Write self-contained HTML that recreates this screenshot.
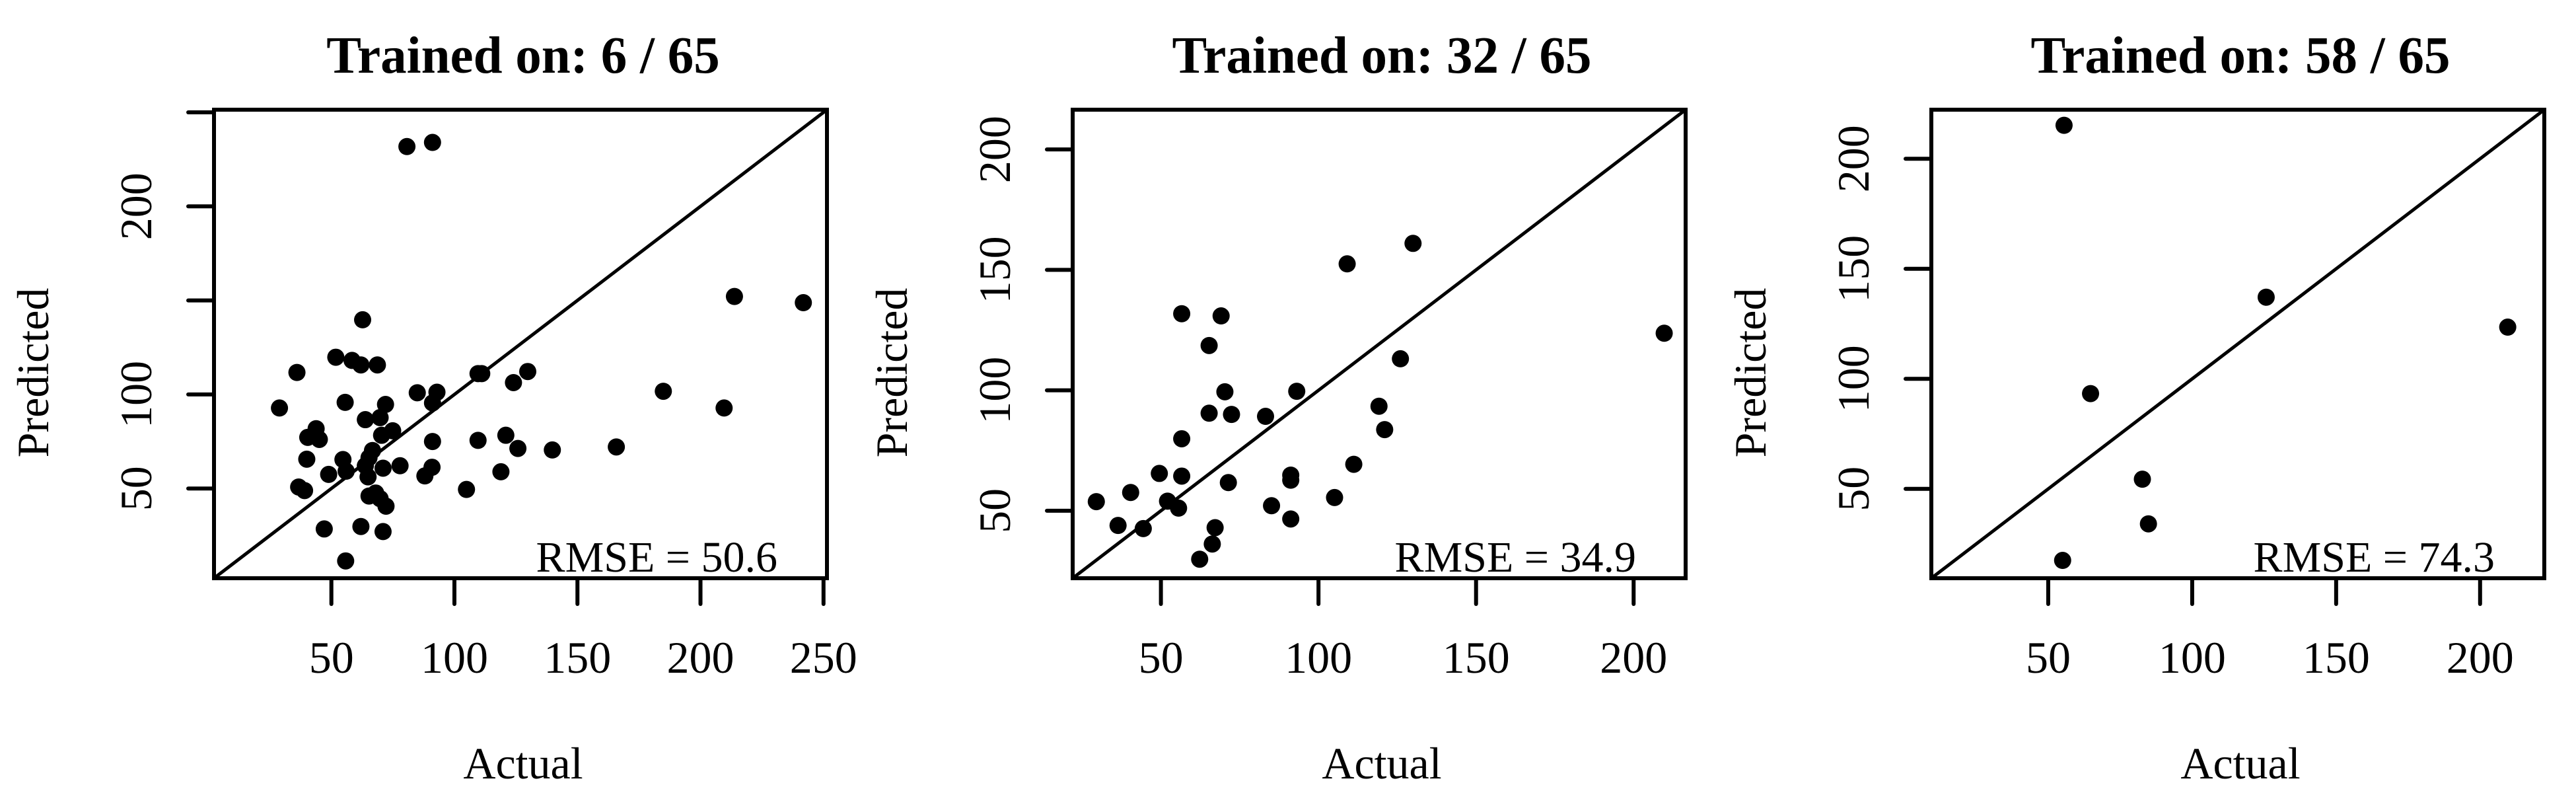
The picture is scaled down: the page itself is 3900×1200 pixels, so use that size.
<!DOCTYPE html>
<html><head><meta charset="utf-8"><style>
html,body{margin:0;padding:0;background:#fff;}
svg{display:block;font-family:"Liberation Serif",serif;}
</style></head><body>
<svg id="chart" width="3900" height="1200" viewBox="0 0 3900 1200" xmlns="http://www.w3.org/2000/svg"></svg>
<script>
const titles = ["Trained on: 6 / 65","Trained on: 32 / 65","Trained on: 58 / 65"];
const rmseLabels = ["RMSE = 50.6","RMSE = 34.9","RMSE = 74.3"];
const limits = [[2.3,251.4],[22,216.5],[9.4,222.3]];
const xTicks = [[50,100,150,200,250],[50,100,150,200],[50,100,150,200]];
const yTicks = [[50,100,150,200,250],[50,100,150,200],[50,100,150,200]];
const yTickLabels = [["50","100","","200",""],["50","100","150","200"],["50","100","150","200"]];
const actual1 = [80.7,91.1,213.8,241.8,62.7,51.8,58.4,62,68.7,36,109.6,111.1,129.8,124,84.9,92.9,184.9,28.9,55.6,72,91.1,209.6,63.8,69.8,43.8,40.4,45.1,70.4,74.9,91.1,109.6,120.9,125.8,139.8,165.8,40,54.7,66.7,65.3,63.8,71,77.9,90.9,48.9,56,64.9,88,118.9,36.7,39.1,104.9,65.3,68,69.8,72.2,47.1,62,71,55.8];
const predicted1 = [231.8,234,152.1,148.8,139.7,119.8,118.1,115.7,115.7,111.7,111.1,111.1,112.2,106.3,100.9,101.2,101.7,92.8,95.8,94.7,95.5,92.8,86.6,87.7,81.8,77.2,76.1,78.3,80.7,75,75.6,78.3,71.3,70.5,72.1,65.6,65.4,70.2,66.4,62.1,60.8,62.1,61.3,57.5,59.2,56.2,56.7,58.9,50.8,48.9,49.5,46,47.6,44.6,40.6,28.5,29.8,27.1,11.5];
const actual2 = [130,109.1,56.6,69.1,65.3,209.7,126,70.3,93.1,65.3,72.4,83.2,119.2,121,56.6,111.2,49.5,56.6,91.2,91.2,71.4,29.5,40.4,52.1,55.6,85.1,105.1,36.4,44.4,67.2,91.2,66.3,62.3];
const predicted2 = [161,152.5,131.8,130.9,118.6,123.7,113.1,99.4,99.6,90.5,90,89.2,93.4,83.7,79.9,69.3,65.5,64.4,64.8,62.7,61.7,53.8,57.6,54,51.1,52.1,55.5,43.9,42.6,43,46.6,36.2,29.9];
const actual3 = [55.5,125.7,209.6,64.7,82.7,84.8,55];
const predicted3 = [215.2,137.1,123.5,93.3,54.4,34.1,17.5];
const actuals = [actual1,actual2,actual3];
const predicteds = [predicted1,predicted2,predicted3];

const NS = "http://www.w3.org/2000/svg";
const svg = document.getElementById("chart");
const L=324, R=1252, T=166, B=875;
function mk(tag, attrs, parent){
  const e=document.createElementNS(NS,tag);
  for(const k in attrs) e.setAttribute(k,attrs[k]);
  parent.appendChild(e); return e;
}
for(let p=0;p<3;p++){
  const off=p*1300;
  const g=mk("g",{transform:"translate("+off+",0)"},svg);
  
  
  const [lo,hi]=limits[p];
  const sx=v=>L+(v-lo)/(hi-lo)*(R-L);
  const sy=v=>B-(v-lo)/(hi-lo)*(B-T);
  const t=mk("text",{x:792,y:110,"text-anchor":"middle","font-size":79,"font-weight":"bold"},g);
  t.textContent=titles[p];
  
  
  const a=actuals[p], pr=predicteds[p];
  for(let i=0;i<a.length;i++){
    const c=mk("circle",{cx:sx(a[i]),cy:sy(pr[i]),r:13,fill:"#000"},g);
    
    
  }
  const d=mk("line",{x1:sx(lo),y1:sy(lo),x2:sx(hi),y2:sy(hi),stroke:"#000","stroke-width":5},g);
  
  
  const box=mk("rect",{x:L,y:T,width:R-L,height:B-T,fill:"none",stroke:"#000","stroke-width":6},g);
  
  
  xTicks[p].forEach(v=>{
    const x=sx(v);
    const tk=mk("line",{x1:x,y1:B,x2:x,y2:B+39,stroke:"#000","stroke-width":6,"stroke-linecap":"round"},g);
    
    
    const lb=mk("text",{x:x,y:1018,"text-anchor":"middle","font-size":68},g);
    lb.textContent=String(v);
    
    
  });
  yTicks[p].forEach((v,i)=>{
    const y=sy(v);
    const tk=mk("line",{x1:L,y1:y,x2:L-39,y2:y,stroke:"#000","stroke-width":6,"stroke-linecap":"round"},g);
    
    
    if(yTickLabels[p][i]){
      const lb=mk("text",{x:229,y:y,"text-anchor":"middle","font-size":68,transform:"rotate(-90 229 "+y+")"},g);
      lb.textContent=yTickLabels[p][i];
      
      
    }
  });
  const rm=mk("text",{x:1177,y:865,"text-anchor":"end","font-size":66},g);
  rm.textContent=rmseLabels[p];
  
  
  const xl=mk("text",{x:792,y:1178,"text-anchor":"middle","font-size":68},g);
  xl.textContent="Actual";
  
  
  const yl=mk("text",{x:73,y:564,"text-anchor":"middle","font-size":68,transform:"rotate(-90 73 564)"},g);
  yl.textContent="Predicted";
  
  
}
</script>
</body></html>
